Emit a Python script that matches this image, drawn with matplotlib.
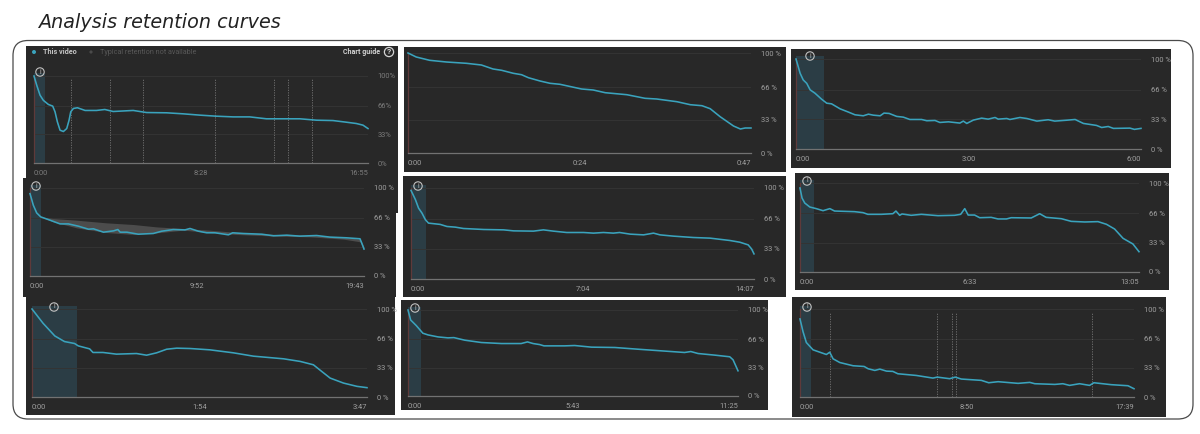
import matplotlib
matplotlib.use('Agg')
import matplotlib.pyplot as plt
from matplotlib.patches import Circle, FancyBboxPatch, Rectangle

W, H = 1200, 434

BG = '#282828'
LINE = '#3aa3bd'
INTRO = '#2b3d45'
GRID = '#343434'
AXIS = '#727272'
START = '#5f3a3a'
TICK = '#a0a0a0'

# retention curves: x is percent of the video, y is percent of viewers
x1 = [0, .8, 1.8, 2.8, 4.3, 5.6, 6.3, 7, 7.8, 8.8, 9.8, 10.5, 11, 11.8, 13, 15.3, 18.7, 21.2, 23.7, 29.7, 33.7,
      39.7, 44.7, 49.7, 54.6, 59.6, 64.6, 69.6, 74.6, 79.6, 84.6, 89.5, 93.5, 96.5, 98.5, 100]
y1 = [100, 89.6, 78, 72, 67.3, 65.4, 58.8, 47.3, 37.7, 36.2, 39.6, 49.2, 58.8, 62.7, 63.5, 60.4, 60.4, 61.5, 59.2,
      60.4, 58, 57.7, 56.5, 55, 53.8, 53, 53, 50.8, 50.8, 50.8, 49.2, 48.8, 46.9, 45.4, 43.5, 39.6]
x2 = [0, 2.4, 6.3, 11.2, 17, 21.4, 24.8, 27.3, 30.7, 33.1, 35.1, 38.5, 41.4, 44.3, 50.6, 54, 57.5, 63.8, 69.1, 72.5,
      78.4, 82.3, 85.7, 88.1, 91, 94.9, 96.9, 98.3, 100]
y2 = [100, 96, 92.7, 91, 89.7, 88, 84, 82.7, 79.7, 78.3, 75.3, 72, 69.7, 68.7, 64, 63, 60.3, 58.3, 54.7, 54, 51.3,
      48.3, 47.3, 44.3, 36.3, 27, 24, 25, 25]
x3 = [0, .5, 1.2, 2.1, 3.1, 4.1, 5.5, 7.4, 8.9, 10.3, 12.8, 15.2, 17.1, 19.5, 21, 22.4, 24.4, 25.5, 27, 29.2, 31.1,
      33, 36.4, 37.9, 40.3, 41.7, 44.2, 47.5, 48.5, 49.5, 51.4, 53.8, 55.7, 57.7, 58.6, 61.1, 62, 64.9, 66.9, 69.8,
      73.1, 75, 78.5, 80.9, 83.3, 87.1, 88.6, 90.5, 92, 96.8, 98.1, 100]
y3 = [100, 93.4, 84.1, 76.7, 73, 65.7, 62, 55.4, 50.9, 50.2, 44.6, 41, 38, 36.9, 38.7, 37.6, 36.9, 39.9, 39.5, 36.2,
      35.4, 32.8, 32.8, 31.4, 31.7, 29.5, 30.2, 28.8, 31, 28.4, 32.1, 34.3, 33.2, 35, 33.2, 33.9, 32.8, 35, 33.9, 31,
      32.5, 31, 32, 32.8, 28.4, 26.2, 23.9, 25, 22.9, 23.2, 21.8, 22.9]
x4 = [0, 1, 2, 3.2, 6, 9, 11.5, 14.5, 17.5, 19, 22, 25, 26.3, 27, 29, 32.4, 36.9, 39.4, 42.9, 46.4, 47.9, 50.4, 52.9,
      55.4, 59.4, 60.7, 63.9, 69.4, 72.9, 76.9, 80.8, 85.8, 89.8, 94.8, 98.8, 99.3, 100]
y4 = [93.6, 80.4, 71.7, 67.2, 63.4, 59.2, 59.2, 56.6, 53.2, 53.6, 49.8, 51.3, 52.8, 49.8, 49.8, 47.5, 48.3, 50.9,
      52.8, 52.4, 54, 50.9, 49.1, 49.1, 46.8, 49.1, 48.3, 47.5, 45.7, 46.4, 45.3, 46, 44.2, 43.4, 42.3, 37.7, 30.6]
x5 = [0, 1.3, 2.2, 3.2, 4.2, 5.1, 8.5, 10.5, 12.9, 15.3, 21.2, 27, 29.9, 35.7, 38.6, 41.5, 45.4, 50.3, 53.2, 56.1,
      59, 60.8, 63.9, 67.8, 70.7, 72.6, 76.5, 82.3, 87.2, 93, 95.9, 98.3, 99.3, 100]
y5 = [97.4, 87.1, 77.9, 72.4, 65.1, 61.4, 60, 57.7, 57, 55.5, 54.4, 54, 52.9, 52.6, 54, 52.6, 51.1, 51.1, 50.4, 51.1,
      50.4, 51.1, 49.3, 48.5, 50.4, 48.5, 47.1, 45.6, 44.9, 42.3, 40.4, 37.5, 33, 27.6]
x6 = [0, .6, 1.4, 2.9, 4.8, 6.8, 8.8, 10.2, 16.1, 18.6, 20, 24, 27.4, 28.3, 29.4, 30.1, 32.8, 35.8, 40.7, 45.6, 47.4,
      48.6, 49.6, 51.5, 53, 56.4, 58.4, 60.9, 62.3, 68.2, 70.7, 72.6, 77.1, 80, 84, 87.9, 90.4, 92.8, 95.3, 98.2, 100]
y6 = [94.4, 83.1, 77.5, 73, 71.2, 68.9, 71.2, 68.5, 67.8, 66.7, 64.8, 64.8, 65.5, 68.5, 63.7, 65.2, 63.7, 64.8, 63.3,
      63.7, 64.8, 71.2, 64, 64, 61, 61.4, 59.6, 59.6, 61, 60.7, 65.5, 61.4, 59.9, 56.9, 56.2, 56.6, 53.6, 48.3, 37.8,
      31.5, 22.8]
x7 = [0, 3.3, 6.8, 9.7, 12.7, 13.8, 17.2, 18.2, 21.2, 25.2, 31.2, 34.2, 37.2, 40.2, 43.2, 47.2, 53.1, 60.1, 66.1,
      75.1, 80.1, 84, 86.5, 89, 93, 97, 100]
y7 = [100, 83.8, 69.4, 63, 60.8, 58.1, 54.7, 50.6, 50.6, 48.7, 49.4, 47.5, 50.2, 54.3, 55.5, 55.1, 53.6, 50.2, 46.4,
      43.4, 40.4, 36.6, 29, 21.5, 15.8, 12.1, 10.6]
x8 = [0, .8, 2.5, 4.5, 6.1, 9.1, 12.1, 13.9, 17.2, 22.2, 28.3, 34.3, 36.2, 37.9, 39.9, 41.2, 47.5, 50.5, 55.6, 62.7,
      69.7, 76.8, 83.8, 85.7, 87.9, 93, 97.5, 98.5, 100]
y8 = [100, 88.4, 81.9, 73, 71, 68.7, 67.6, 67.9, 64.9, 62.2, 61, 61, 62.9, 61, 59.8, 58.3, 58.3, 58.7, 56.8, 56.4,
      54.4, 52.5, 50.6, 51.7, 49.4, 47.5, 45.6, 42.1, 29.3]
x9 = [0, .9, 1.9, 3.9, 7.9, 8.9, 9.9, 11.9, 15.9, 19.2, 20.4, 22.4, 23.9, 25.9, 27.8, 29.3, 34.8, 39.8, 41.1, 44.8,
      46.5, 48.3, 54.3, 56.5, 59.3, 65.3, 68.8, 70.3, 76.3, 78.7, 80.7, 83.7, 86.7, 88, 93.2, 98.2, 100]
y9 = [88.7, 74.3, 61.9, 53.6, 48.3, 50.9, 43.4, 39.2, 35.5, 34.7, 32.1, 30.2, 31.7, 29.4, 29.1, 26.4, 24.5, 21.5,
      22.6, 20.8, 22.6, 20.4, 18.9, 16.2, 17.4, 15.5, 16.6, 15.1, 14.3, 15.1, 13.2, 15.1, 13.2, 16.2, 14, 12.8, 9.4]

# typical retention band behind the curve on the 19:43 video
band_x = [3.2, 7, 14, 22.9, 31, 37.9, 45.9, 53.9, 61.9, 73.9, 83.8, 93.8, 98.8, 100]
band_top = [67.2, 65.3, 63.4, 60.4, 58.5, 55.8, 54, 52, 49.5, 47.2, 46.4, 43.8, 41.9, 33.2]
band_low = [67.2, 61.5, 54.7, 49.4, 47.2, 49, 52.1, 49.4, 47.2, 45.3, 44.5, 41.9, 38.9, 30.6]

marks1 = [11.1, 22.7, 32.5, 54.1, 71.8, 76, 83.3]
marks9 = [9.1, 41.1, 45.5, 46.6, 87.5]

fig = plt.figure(figsize=(W / 100, H / 100), dpi=100, facecolor='white')
plt.rcParams['font.family'] = ['Roboto', 'DejaVu Sans']


def fx(px):
    return px / W


def fy(py):
    return 1 - py / H


def add_box(x0, y0, x1, y1):
    # negative zorder keeps the dark boxes under the axes
    fig.add_artist(Rectangle((fx(x0), fy(y1)), (x1 - x0) / W, (y1 - y0) / H,
                             transform=fig.transFigure, fc=BG, ec='none', zorder=-5))


def draw_panel(box, plot, xs, ys, ticks, intro, pct='%d %%', marks=None, icon=None, band=None, tick_color=TICK):
    add_box(*box)
    left, top, right, bottom = plot
    ax = fig.add_axes([fx(left), fy(bottom), (right - left) / W, (bottom - top) / H])
    ax.set_facecolor('none')
    ax.set_xlim(0, 100)
    ax.set_ylim(0, 100)

    if intro:
        ax.axvspan(0, intro, ymin=0, ymax=1.03, fc=INTRO, ec='none', clip_on=False, zorder=1)
    for v in [33, 66, 100]:
        ax.axhline(v, color=GRID, lw=0.7, zorder=1)
    if marks:
        for m in marks:
            ax.axvline(m, color='#747474', lw=0.6, ls=(0, (1.5, 1.5)), ymax=0.97, zorder=2)
    if band:
        ax.fill_between(band[0], band[1], band[2], color='#4c4c4c', lw=0, zorder=2)
    ax.plot(xs, ys, color=LINE, lw=1.15, zorder=4, solid_joinstyle='round', clip_on=False)

    for name in ['top', 'right']:
        ax.spines[name].set_visible(False)
    ax.spines['bottom'].set_color(AXIS)
    ax.spines['bottom'].set_linewidth(0.9)
    ax.spines['left'].set_color(START)
    ax.spines['left'].set_linewidth(0.9)

    ax.set_xticks([0, 50, 100], ticks)
    labels = ax.get_xticklabels()
    labels[0].set_ha('left')
    labels[2].set_ha('right')
    ax.tick_params(axis='x', length=0, pad=5, labelsize=5.4, labelcolor=tick_color)
    ax.yaxis.tick_right()
    ax.set_yticks([0, 33, 66, 100], [pct % v for v in [0, 33, 66, 100]])
    ax.tick_params(axis='y', length=0, pad=7, labelsize=5.4, labelcolor=tick_color)

    if icon:
        fig.add_artist(Circle((icon[0], H - icon[1]), 4.2, transform=None, fc='none', ec='#c0c0c0', lw=0.8))
        fig.text(fx(icon[0]), fy(icon[1]), 'i', color='#c0c0c0', fontsize=5, ha='center', va='center')
    return ax


# the first screenshot's dark box runs down behind the one below it
add_box(26, 46, 398, 213)

draw_panel((26, 46, 398, 178), (34, 76, 368, 163), x1, y1, ['0:00', '8:28', '16:55'], 3.3, pct='%d%%',
           marks=marks1, icon=(40, 72), tick_color='#7c7c7c')
draw_panel((404, 47, 786, 172), (408, 53, 751, 153), x2, y2, ['0:00', '0:24', '0:47'], 0)
draw_panel((791, 49, 1171, 168), (796, 59, 1141, 149), x3, y3, ['0:00', '3:00', '6:00'], 8.2, icon=(810, 56))
draw_panel((23, 178, 396, 297), (30, 188, 364, 276), x4, y4, ['0:00', '9:52', '19:43'], 3.2, icon=(36, 186),
           band=(band_x, band_top, band_low))
draw_panel((403, 176, 786, 297), (411, 188, 754, 279), x5, y5, ['0:00', '7:04', '14:07'], 4.4, icon=(418, 186))
draw_panel((795, 173, 1169, 290), (800, 183, 1139, 272), x6, y6, ['0:00', '6:33', '13:05'], 4.1, icon=(807, 181))
draw_panel((26, 296, 395, 415), (32, 309, 367, 397), x7, y7, ['0:00', '1:54', '3:47'], 13.5, icon=(54, 307))
draw_panel((401, 300, 768, 410), (408, 310, 738, 396), x8, y8, ['0:00', '5:43', '11:25'], 4, icon=(415, 308))
draw_panel((792, 297, 1166, 417), (800, 309, 1134, 397), x9, y9, ['0:00', '8:50', '17:39'], 3.2,
           marks=marks9, icon=(807, 307))

# legend row of the first screenshot
fig.add_artist(Circle((34, H - 52), 2, transform=None, fc=LINE, ec='none'))
fig.text(fx(43), fy(52), 'This video', color='#c4c4c4', fontsize=5.2, va='center', fontweight='bold')
fig.add_artist(Circle((91, H - 52), 1.6, transform=None, fc='#4a4a4a', ec='none'))
fig.text(fx(100), fy(52), 'Typical retention not available', color='#585858', fontsize=5.2, va='center')
fig.text(fx(343), fy(52), 'Chart guide', color='#d4d4d4', fontsize=5.1, va='center', fontweight='bold')
fig.add_artist(Circle((389, H - 52), 4.6, transform=None, fc='none', ec='#d4d4d4', lw=0.9))
fig.text(fx(389), fy(52), '?', color='#d4d4d4', fontsize=6, ha='center', va='center', fontweight='bold')

# rounded outline around all the screenshots
fig.add_artist(FancyBboxPatch((13, H - 419), 1180, 378.5, boxstyle='round,pad=0,rounding_size=15',
                              transform=None, fc='none', ec='#4a4a4a', lw=0.9, zorder=-6))

fig.text(fx(38), fy(22), 'Analysis retention curves', color='#222222', fontsize=13.8, va='center',
         family=['DejaVu Sans'], style='italic')

fig.savefig('out.png', dpi=100)
